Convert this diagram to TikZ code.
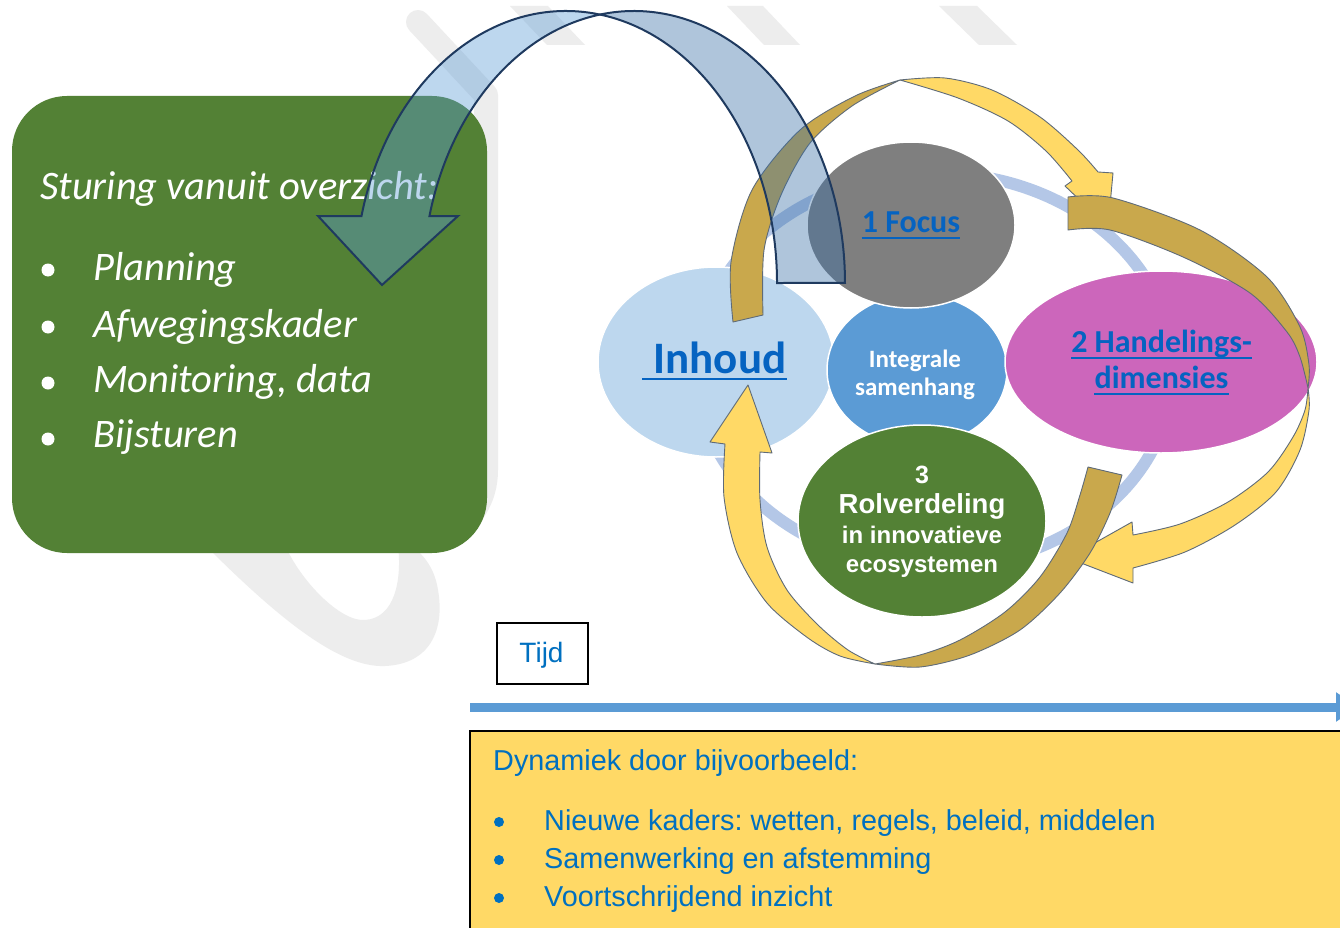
\documentclass[tikz,border=0pt]{standalone}
\usepackage{fontspec}
\setmainfont{Carlito}
\newfontfamily\arialf{Liberation Sans}
\usetikzlibrary{shapes.geometric,arrows.meta}
\frenchspacing
\definecolor{boxgreen}{HTML}{538135}
\definecolor{focusgrey}{HTML}{7F7F7F}
\definecolor{inhblue}{HTML}{BDD7EE}
\definecolor{intblue}{HTML}{5B9BD5}
\definecolor{magen}{HTML}{CC66BB}
\definecolor{linkblue}{HTML}{0563C1}
\definecolor{txtblue}{HTML}{0070C0}
\definecolor{yfrontc}{HTML}{FFD966}
\definecolor{ybackc}{HTML}{C9A84C}
\definecolor{ringc}{HTML}{B4C7E7}
\definecolor{navy}{HTML}{1F3A5F}
\definecolor{wmgrey}{HTML}{EDEDED}
\definecolor{bbackc}{HTML}{376EA7}
\definecolor{youtl}{HTML}{5F6B78}
\begin{document}
\frenchspacing
\begin{tikzpicture}[x=1pt,y=-1pt,
  wm/.style={fill=wmgrey},
  blob/.style={ellipse, inner sep=0pt, draw=white, line width=1.5pt},
  lbl/.style={inner sep=0pt, anchor=base},
  uline/.style={linkblue, line width=2.4pt},
  wtext/.style={inner sep=0pt, anchor=base west, text=white, font=\itshape\fontsize{40.5}{42}\selectfont},
  ytext/.style={inner sep=0pt, anchor=base west, text=txtblue, font=\arialf\fontsize{28.8}{30}\selectfont},
  yfront/.style={fill=yfrontc, draw=youtl, line width=0.9pt, line join=round},
  yback/.style={fill=ybackc, draw=youtl, line width=0.9pt, line join=round},
  bfront/.style={fill=intblue, fill opacity=0.4, draw=navy, draw opacity=1, line width=2pt, line join=miter},
  bback/.style={fill=bbackc, fill opacity=0.4, draw=navy, draw opacity=1, line width=2pt, line join=miter}
]
\useasboundingbox (0,0) rectangle (1340,928);
\clip (0,0) rectangle (1340,928);
\fill[white] (0,0) rectangle (1340,928);

% watermark
\fill[wm] (510,6) -- (548,6) -- (585,45) -- (547,45) -- cycle;
\fill[wm] (727,6) -- (763,6) -- (800,45) -- (764,45) -- cycle;
\fill[wm] (939,6) -- (977,6) -- (1017,45) -- (979,45) -- cycle;
\draw[wmgrey, line width=24pt, line cap=round, line join=round] (418,22) -- (486,95) -- (486,470) .. controls (486,500) and (470,520) .. (450,535);
\fill[wm] (205,545) .. controls (280,620) and (340,668) .. (385,666) .. controls (430,664) and (445,630) .. (438,590) .. controls (435,570) and (425,555) .. (410,545) -- (398,545) .. controls (402,580) and (395,618) .. (365,620) .. controls (340,622) and (300,580) .. (285,545) -- cycle;

% green box
\fill[boxgreen, rounded corners=55pt] (12,96) rectangle (487,553);
\node[wtext] (t0) at (40,199) {Sturing vanuit overzicht:};
\node[wtext] (t1) at (93,280) {Planning};
\node[wtext] (t2) at (93,337) {Afwegingskader};
\node[wtext] (t3) at (93,392) {Monitoring, data};
\node[wtext] (t4) at (93,447) {Bijsturen};
\foreach \yy in {270,327,383,439} \fill[white] (48,\yy) circle (6.5pt);

% ring
\draw[ringc, line width=12pt] (935,370) ellipse [x radius=238pt, y radius=197pt];

% ellipses
\node[blob, fill=inhblue, minimum width=236pt, minimum height=190pt] (inh) at (716,362) {};
\node[blob, fill=intblue, minimum width=180pt, minimum height=152pt] (int) at (917,370) {};
\node[blob, fill=focusgrey, minimum width=208pt, minimum height=166pt] (foc) at (911,225) {};
\node[blob, fill=magen, minimum width=312pt, minimum height=182pt] (han) at (1161,362) {};
\node[blob, fill=boxgreen, minimum width=248pt, minimum height=192pt] (rol) at (922,521) {};

% labels
\node[lbl, text=linkblue, font=\bfseries\fontsize{45}{45}\selectfont] (inhl) at (720,373) {Inhoud};
\draw[uline, line width=2.6pt] ([xshift=-11pt,yshift=-6pt]inhl.base west) -- ([yshift=-6pt]inhl.base east);
\node[lbl, text=linkblue, font=\bfseries\fontsize{32}{32}\selectfont] (focl) at (911,232) {1 Focus};
\draw[uline] ([yshift=-6pt]focl.base west) -- ([yshift=-6pt]focl.base east);
\node[lbl, text=linkblue, font=\bfseries\fontsize{32}{32}\selectfont] (hanl1) at (1161.5,352) {2 Handelings-};
\draw[uline] ([yshift=-6pt]hanl1.base west) -- ([yshift=-6pt]hanl1.base east);
\node[lbl, text=linkblue, font=\bfseries\fontsize{32}{32}\selectfont] (hanl2) at (1161.5,388) {dimensies};
\draw[uline] ([yshift=-6pt]hanl2.base west) -- ([yshift=-6pt]hanl2.base east);
\node[lbl, text=white, font=\bfseries\fontsize{25}{25}\selectfont] (intl1) at (915,367) {Integrale};
\node[lbl, text=white, font=\bfseries\fontsize{25}{25}\selectfont] (intl2) at (915,395) {samenhang};
\node[lbl, text=white, font=\arialf\bfseries\fontsize{25}{25}\selectfont] (roll0) at (922,483) {3};
\node[lbl, text=white, font=\arialf\bfseries\fontsize{27.5}{28}\selectfont] (roll1) at (922,513) {Rolverdeling};
\node[lbl, text=white, font=\arialf\bfseries\fontsize{24}{24}\selectfont] (roll2) at (922,543) {in innovatieve};
\node[lbl, text=white, font=\arialf\bfseries\fontsize{24}{24}\selectfont] (roll3) at (922,572) {ecosystemen};

% yellow arrow 1
\filldraw[yback] plot[smooth] coordinates {(733,322) (731,262) (752,190) (800,130) (855,96) (900,80)} -- plot[smooth] coordinates {(900,80) (852,106) (810,143) (781,195) (764,250) (763,315)} -- cycle;
\filldraw[yfront] plot[smooth] coordinates {(900,80) (945,78) (992,90) (1040,117) (1078,150) (1098,172)} -- (1113,173) -- (1108,227) -- (1065,186) -- plot[smooth] coordinates {(1072,181) (1046,151) (1008,121) (958,98) (900,80)} -- cycle;
% yellow arrow 2
\filldraw[yback] (1068,230) -- (1068,197) -- plot[smooth] coordinates {(1068,197) (1113,198) (1200,230) (1267,277) (1300,327) (1309,365) (1308,388)} -- plot[smooth] coordinates {(1308,388) (1300,357) (1287,332) (1250,293) (1183,257) (1110,230) (1068,230)} -- cycle;
\filldraw[yfront] plot[smooth] coordinates {(1308,388) (1309,410) (1300,450) (1276,492) (1235,525) (1185,552) (1133,568)} -- (1133,583) -- (1068,558) -- (1132,522) -- plot[smooth] coordinates {(1133,535) (1180,524) (1228,502) (1268,472) (1293,437) (1305,410) (1308,388)} -- cycle;
% yellow arrow 3
\filldraw[yback] (1088,467) -- (1122,475) -- plot[smooth] coordinates {(1122,475) (1110,513) (1090,553) (1060,593) (1020,630) (970,655) (920,667) (875,664)} -- plot[smooth] coordinates {(875,664) (920,655) (960,640) (1005,612) (1040,577) (1067,533) (1080,495) (1088,467)} -- cycle;
\filldraw[yfront] plot[smooth] coordinates {(875,664) (840,656) (808,638) (767,603) (737,553) (724,497) (725,444)} -- (710,442) -- (748,385) -- (772,453) -- (760,452) -- plot[smooth] coordinates {(760,452) (760,500) (767,547) (787,590) (818,625) (848,650) (875,664)} -- cycle;

% blue curved arrow
\filldraw[bback] (600,14.55) arc[start angle=99.27, end angle=0, x radius=211pt, y radius=272pt] -- (777,283) arc[start angle=0, end angle=80.73, x radius=211pt, y radius=272pt] -- cycle;
\filldraw[bfront] (361.5,216) arc[start angle=165.74, end angle=80.73, x radius=211pt, y radius=272pt] arc[start angle=99.27, end angle=165.74, x radius=211pt, y radius=272pt] -- (458,216) -- (382,285) -- (318,216) -- cycle;

% time
\node[draw=black, line width=1.5pt, minimum width=91pt, minimum height=61pt, inner sep=0pt] (tijd) at (542.5,653.5) {};
\node[lbl, text=txtblue, font=\arialf\fontsize{28}{28}\selectfont] (tijdl) at (541.5,662) {Tijd};
\coordinate (tl0) at (470,707);
\coordinate (tl1) at (1358,707);
\draw[intblue, line width=9pt, -{Triangle[length=22pt,width=28pt]}] (tl0) -- (tl1);

% dynamics box
\draw[fill=yfrontc, draw=black, line width=1.5pt] (470,731) rectangle (1352,940);
\node[ytext] (d0) at (493,770) {Dynamiek door bijvoorbeeld:};
\node[ytext] (d1) at (544,830) {Nieuwe kaders: wetten, regels, beleid, middelen};
\node[ytext] (d2) at (544,868) {Samenwerking en afstemming};
\node[ytext] (d3) at (544,906) {Voortschrijdend inzicht};
\foreach \yy in {822,860,898} \fill[txtblue] (499,\yy) circle (5pt);
\end{tikzpicture}
\end{document}
